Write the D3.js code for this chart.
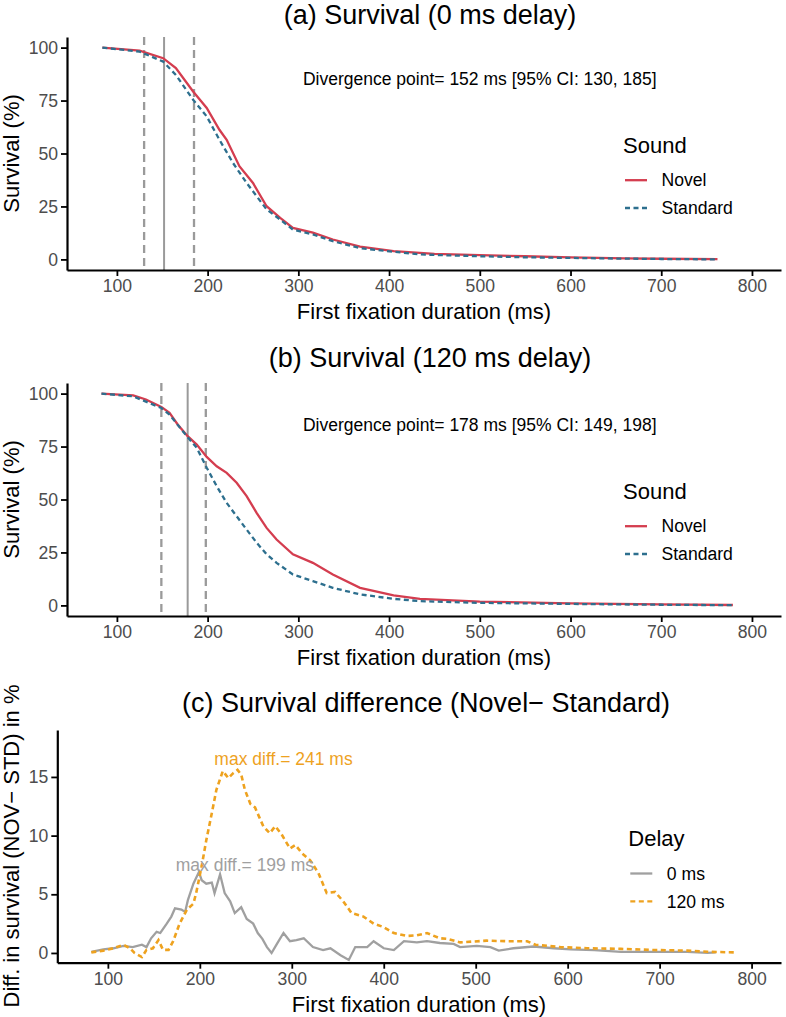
<!DOCTYPE html>
<html>
<head>
<meta charset="utf-8">
<script src="https://cdn.jsdelivr.net/npm/d3@7"></script>
<style>
  body { margin: 0; background: #fff; }
  text { font-family: "Liberation Sans", Arial, Helvetica, sans-serif; }
  .tick text { fill: #4d4d4d; font-size: 17.6px; }
  .tick line { stroke: #000; stroke-width: 1.8; }
  .domain { stroke: #000; stroke-width: 2.2; }
</style>
</head>
<body>
<div id="chart"></div>
<script>
var svgWidth = 786;
var svgHeight = 1017;

// x ticks shared by the three panels
var xTicks = [100, 200, 300, 400, 500, 600, 700, 800];
var survTicks = [0, 25, 50, 75, 100];
var diffTicks = [0, 5, 10, 15];

var soundLabels = ["Novel", "Standard"];
var delayLabels = ["0 ms", "120 ms"];

// (a) survival, 0 ms delay  [time ms, survival %]
var novel0 = [[84, 100], [125, 98.6], [151, 95.0], [165, 90.3], [184, 79.3], [199, 71.5],
  [213, 61.2], [221, 56.5], [235, 44.0], [250, 36.1], [265, 25.1], [280, 19.6], [294, 14.9],
  [316, 12.6], [338, 9.4], [368, 6.0], [405, 3.9], [434, 3.1], [450, 2.6], [500, 2.0],
  [550, 1.5], [600, 1.0], [660, 0.5], [700, 0.3], [762, 0.1]];
var standard0 = [[84, 100], [125, 98.1], [151, 93.4], [165, 87.1], [184, 75.4], [199, 67.5],
  [213, 56.5], [228, 45.5], [243, 36.1], [265, 23.6], [280, 18.8], [294, 14.1], [316, 11.8],
  [338, 8.6], [368, 5.3], [405, 3.6], [434, 2.4], [450, 2.1], [500, 1.5], [550, 1.0],
  [600, 0.7], [650, 0.4], [700, 0.2], [762, 0.0]];
var divergence0 = [152, 130, 185]; // point, CI low, CI high

// (b) survival, 120 ms delay
var novel120 = [[83, 100], [118, 99.2], [132, 97.2], [149, 93.7], [158, 90.9], [167, 85.4],
  [178, 79.9], [188, 75.9], [199, 70.1], [210, 65.7], [221, 62.6], [232, 57.9], [243, 51.6],
  [254, 43.7], [265, 36.6], [276, 31.1], [294, 24.1], [316, 20.1], [338, 14.6], [368, 8.3],
  [405, 4.7], [434, 3.1], [500, 1.8], [600, 1.0], [700, 0.5], [779, 0.2]];
var standard120 = [[83, 100], [118, 98.7], [149, 93.2], [158, 90.1], [177, 79.9], [188, 74.4],
  [199, 65.0], [210, 56.3], [221, 48.4], [232, 42.1], [243, 35.8], [254, 29.6], [265, 24.1],
  [276, 20.1], [294, 14.6], [316, 11.5], [338, 8.3], [368, 5.2], [405, 3.1], [434, 2.0],
  [500, 1.2], [600, 0.7], [700, 0.3], [779, 0.1]];
var divergence120 = [178, 149, 198];

// (c) survival difference Novel - Standard, in %
var diff0 = [[82, 0.1], [95, 0.3], [106, 0.4], [117, 0.6], [127, 0.5], [137, 0.7], [142, 0.5],
  [147, 1.25], [153, 1.8], [157, 1.7], [164, 2.5], [169, 3.1], [173, 3.8], [180, 3.7],
  [184, 3.5], [187, 4.5], [193, 5.9], [199, 6.9], [202, 6.2], [207, 5.9], [213, 6.0],
  [216, 5.1], [222, 6.7], [227, 5.1], [233, 4.4], [238, 3.4], [245, 3.9], [251, 2.9],
  [258, 2.5], [263, 1.7], [268, 1.2], [273, 0.5], [278, 0.0], [284, 0.8], [291, 1.7],
  [298, 1.0], [305, 1.1], [313, 1.25], [323, 0.5], [334, 0.25], [342, 0.4], [353, -0.2],
  [362, -0.6], [369, 0.5], [382, 0.5], [389, 1.0], [400, 0.4], [411, 0.25], [422, 1.0],
  [436, 0.9], [447, 1.0], [461, 0.85], [476, 0.77], [483, 0.5], [501, 0.6], [516, 0.5],
  [525, 0.2], [541, 0.4], [563, 0.55], [585, 0.4], [603, 0.3], [629, 0.25], [658, 0.1],
  [694, 0.1], [730, 0.1], [752, 0.0], [761, 0.05]];
var diff120 = [[82, 0.05], [95, 0.2], [106, 0.4], [117, 0.7], [124, 0.4], [129, 0.0],
  [137, -0.35], [142, 0.26], [149, 0.4], [155, 1.1], [160, 0.26], [166, 0.26], [171, 1.0],
  [178, 2.5], [186, 3.7], [193, 4.2], [196, 5.1], [202, 7.4], [207, 9.6], [213, 11.9],
  [218, 13.9], [225, 15.5], [231, 14.9], [236, 15.3], [241, 15.6], [245, 15.2], [249, 13.9],
  [255, 12.7], [260, 12.4], [269, 10.8], [276, 10.2], [282, 10.8], [289, 10.1], [298, 8.9],
  [304, 9.2], [311, 8.5], [320, 7.9], [329, 6.8], [338, 5.1], [347, 5.2], [356, 4.4],
  [365, 3.4], [378, 3.1], [389, 2.5], [400, 2.2], [411, 1.7], [425, 1.45], [436, 1.5],
  [447, 1.7], [461, 1.25], [469, 1.2], [483, 0.9], [512, 1.05], [534, 1.0], [556, 1.0],
  [565, 0.7], [592, 0.5], [621, 0.4], [658, 0.35], [694, 0.25], [730, 0.2], [752, 0.1],
  [781, 0.05]];
var maxDiff0 = [199, 6.5];
var maxDiff120 = [241, 15.5];

var novelColor = "#d43d4f";
var standardColor = "#2d6f8e";
var grayColor = "#a0a0a0";
var orangeColor = "#eea21f";

var svg = d3.select("#chart")
  .append("svg")
  .attr("width", svgWidth)
  .attr("height", svgHeight);

// draw a pair of axes for one panel
function drawAxes(xScale, yScale, yTicks, top, bottom, left) {
  svg.append("g")
    .attr("transform", `translate(0, ${bottom})`)
    .call(d3.axisBottom(xScale).tickValues(xTicks).tickSize(6).tickPadding(4).tickSizeOuter(0));

  svg.append("g")
    .attr("transform", `translate(${left}, 0)`)
    .call(d3.axisLeft(yScale).tickValues(yTicks).tickSize(6).tickPadding(3).tickSizeOuter(0));
}

function axisTitles(xMid, bottom, yMid, yText) {
  svg.append("text")
    .attr("x", xMid)
    .attr("y", bottom + 49)
    .attr("text-anchor", "middle")
    .style("font-size", "22px")
    .text("First fixation duration (ms)");

  svg.append("text")
    .attr("transform", `translate(18.5, ${yMid}) rotate(-90)`)
    .attr("text-anchor", "middle")
    .style("font-size", "22px")
    .text(yText);
}

function legend(x, y, title, labels, colors, dashes) {
  var g = svg.append("g").attr("transform", `translate(${x}, ${y})`);
  g.append("text")
    .attr("x", 0)
    .attr("y", 0)
    .style("font-size", "22px")
    .text(title);
  labels.forEach(function(lab, i) {
    var ky = 27.5 + i * 27.8;
    g.append("line")
      .attr("x1", 2).attr("x2", 24)
      .attr("y1", ky).attr("y2", ky)
      .attr("stroke", colors[i])
      .attr("stroke-width", 2.3)
      .attr("stroke-dasharray", dashes[i]);
    g.append("text")
      .attr("x", 38.5)
      .attr("y", ky + 6.3)
      .style("font-size", "17.6px")
      .text(lab);
  });
}

function drawSurvival(opts) {
  var xScale = d3.scaleLinear().domain([45, 832]).range([67, 781]);
  var yScale = d3.scaleLinear().domain([-5, 105]).range([opts.bottom, opts.top]);

  svg.append("text")
    .attr("x", 430)
    .attr("y", opts.titleY)
    .attr("text-anchor", "middle")
    .style("font-size", "27px")
    .text(opts.title);

  // divergence point and its CI
  opts.div.forEach(function(v, i) {
    svg.append("line")
      .attr("x1", xScale(v)).attr("x2", xScale(v))
      .attr("y1", opts.top).attr("y2", opts.bottom)
      .attr("stroke", "#9a9a9a")
      .attr("stroke-width", i === 0 ? 2 : 2.3)
      .attr("stroke-dasharray", i === 0 ? null : "8,5");
  });

  var line = d3.line()
    .x(d => xScale(d[0]))
    .y(d => yScale(d[1]));

  svg.append("path")
    .datum(opts.novel)
    .attr("fill", "none")
    .attr("stroke", novelColor)
    .attr("stroke-width", 2.3)
    .attr("d", line);

  svg.append("path")
    .datum(opts.standard)
    .attr("fill", "none")
    .attr("stroke", standardColor)
    .attr("stroke-width", 2.3)
    .attr("stroke-dasharray", "5,3.5")
    .attr("d", line);

  svg.append("text")
    .attr("x", xScale(500))
    .attr("y", yScale(85) + 6)
    .attr("text-anchor", "middle")
    .style("font-size", "17.5px")
    .text(`Divergence point= ${opts.div[0]} ms [95% CI: ${opts.div[1]}, ${opts.div[2]}]`);

  drawAxes(xScale, yScale, survTicks, opts.top, opts.bottom, 67);
  axisTitles(424, opts.bottom, (opts.top + opts.bottom) / 2, "Survival (%)");
  legend(623, opts.top + 115.7, "Sound", soundLabels, [novelColor, standardColor], [null, "5,3.5"]);
}

drawSurvival({
  title: "(a) Survival (0 ms delay)", titleY: 24, top: 37, bottom: 270,
  novel: novel0, standard: standard0, div: divergence0
});

drawSurvival({
  title: "(b) Survival (120 ms delay)", titleY: 367, top: 383, bottom: 616,
  novel: novel120, standard: standard120, div: divergence120
});

// (c) survival difference
var xC = d3.scaleLinear().domain([45, 832]).range([57.3, 781]);
var yC = d3.scaleLinear().domain([-0.83, 19.0]).range([962.7, 730]);

svg.append("text")
  .attr("x", 426)
  .attr("y", 711.5)
  .attr("text-anchor", "middle")
  .style("font-size", "27px")
  .text("(c) Survival difference (Novel\u2212 Standard)");

var lineC = d3.line()
  .x(d => xC(d[0]))
  .y(d => yC(d[1]));

svg.append("path")
  .datum(diff0)
  .attr("fill", "none")
  .attr("stroke", grayColor)
  .attr("stroke-width", 2.3)
  .attr("d", lineC);

svg.append("path")
  .datum(diff120)
  .attr("fill", "none")
  .attr("stroke", orangeColor)
  .attr("stroke-width", 2.6)
  .attr("stroke-dasharray", "5,3.5")
  .attr("d", lineC);

[[maxDiff0, grayColor], [maxDiff120, orangeColor]].forEach(function(m) {
  svg.append("text")
    .attr("x", xC(m[0][0] + 50))
    .attr("y", yC(m[0][1] + 1) + 6)
    .attr("text-anchor", "middle")
    .attr("fill", m[1])
    .style("font-size", "17.5px")
    .text(`max diff.= ${m[0][0]} ms`);
});

drawAxes(xC, yC, diffTicks, 730, 962.7, 57.3);
axisTitles(419, 962.7, 846, "Diff. in survival (NOV\u2212 STD) in %");
legend(628.3, 846, "Delay", delayLabels, [grayColor, orangeColor], [null, "5,3.5"]);
</script>
</body>
</html>
